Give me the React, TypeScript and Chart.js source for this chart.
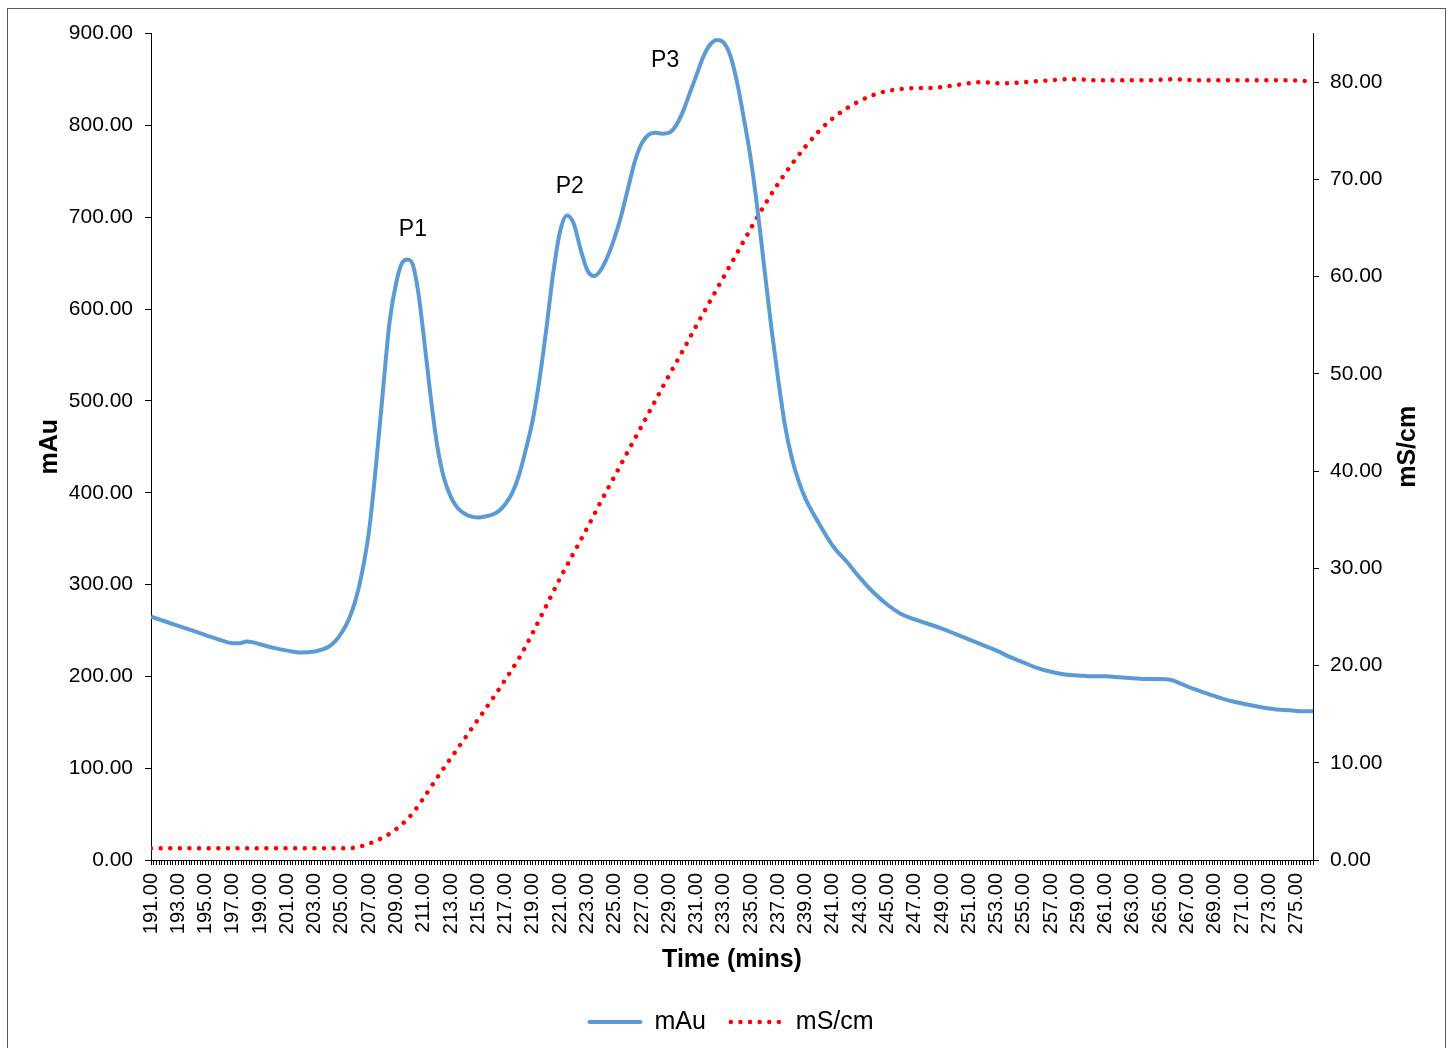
import { useEffect, useRef } from "react";
import { Chart, registerables } from "chart.js";

Chart.register(...registerables);

const FONT = "'Liberation Sans', Arial, Helvetica, sans-serif";

// Elution time (mins) and UV absorbance (mAu)
const mauTimes = [
  191, 192, 193, 194, 195, 196, 197, 197.5, 198, 198.5, 199, 200, 201, 202, 203, 203.5, 204, 204.5,
  205, 205.5, 206, 206.5, 207, 207.5, 208, 208.5, 209, 209.4, 209.8, 210.2, 210.6, 211, 211.5, 212,
  212.5, 213, 213.5, 214, 214.5, 215, 215.5, 216, 216.5, 217, 217.5, 218, 218.5, 219, 219.5, 220,
  220.5, 221, 221.5, 222, 222.5, 223, 223.5, 224, 224.5, 225, 225.5, 226, 226.5, 227, 227.5, 228,
  228.5, 229, 229.5, 230, 230.5, 231, 231.5, 232, 232.5, 233, 233.5, 234, 234.5, 235, 235.5, 236,
  236.5, 237, 237.5, 238, 238.5, 239, 240, 241, 242, 243, 244, 245, 246, 247, 248, 249, 250, 251,
  252, 253, 254, 255, 256, 257, 258, 259, 260, 261, 262, 263, 264, 265, 265.8, 266.5, 267.5, 268.5,
  269.5, 270.5, 271.5, 272.5, 273.5, 274.5, 275.5, 276.2,
];
const mauValues = [
  265, 260, 255, 250, 245, 240, 236, 236, 238, 237, 235, 231, 228, 226, 227, 229, 232, 238,
  248, 262, 283, 315, 360, 430, 510, 587, 630, 650, 654, 648, 618, 570, 505, 450,
  415, 395, 383, 377, 374, 373, 374, 376, 380, 388, 400, 420, 448, 480, 525, 580,
  640, 685, 702, 693, 665, 642, 636, 643, 658, 678, 703, 733, 762, 781, 790, 792,
  791, 792, 800, 815, 835, 855, 875, 888, 893, 890, 875, 845, 805, 761, 705, 641,
  578, 522, 472, 437, 412, 393, 366, 342, 325, 307, 291, 278, 268, 262, 257, 252, 246, 240,
  234, 228, 221, 215, 209, 205, 202, 201, 200, 200, 199, 198, 197, 197, 196, 192, 186, 181,
  176, 172, 169, 166, 164, 163, 162, 162,
];

// Conductivity (mS/cm) over the same run
const condTimes = [
  191, 195, 200, 205, 205.5, 206, 206.5, 207, 207.5, 208, 208.5, 209, 209.5, 210, 210.5, 211, 212,
  213, 214, 215, 216, 217, 218, 219, 220, 221, 222, 223, 224, 225, 226, 227, 228, 229, 230, 231,
  232, 233, 234, 235, 236, 237, 238, 239, 240, 241, 242, 243, 244, 245, 246, 247, 248, 249, 250,
  251, 252, 253, 254, 255, 256, 257, 258, 259, 260, 262, 264, 266, 268, 270, 272, 274, 276.2,
];
const condValues = [
  1.2, 1.2, 1.2, 1.2, 1.2, 1.3, 1.45, 1.7, 1.95, 2.3, 2.7, 3.2, 3.8, 4.5, 5.4, 6.4, 8.5,
  10.5, 12.5, 14.5, 16.5, 18.6, 20.8, 23.4, 26.2, 29.0, 31.6, 34.2, 36.9, 39.5, 42.1, 44.7, 47.3, 49.9, 52.4, 55.0,
  57.5, 60.0, 62.5, 65.0, 67.4, 69.6, 71.6, 73.4, 75.0, 76.3, 77.3, 78.1, 78.7, 79.1, 79.3, 79.4, 79.4, 79.5, 79.7,
  79.9, 80.0, 79.9, 79.9, 80.0, 80.1, 80.2, 80.3, 80.3, 80.2, 80.2, 80.2, 80.3, 80.2, 80.2, 80.2, 80.2, 80.1,
];

// Peak annotations (time, mAu)
const peakNames = ["P1", "P2", "P3"];
const peakTimes = [210.2, 221.7, 228.7];
const peakLevels = [686, 733, 870];

const X_MIN = 191;
const X_MAX = 276.2;
const X_STEP = 0.2;

const seriesNames = ["mAu", "mS/cm"];
const BLUE = "#5B9BD5";
const RED = "#FF0000";

const RED_DASH = [0.01, 9.6];

const peakLabelPlugin = {
  id: "peakLabels",
  afterDatasetsDraw(chart: any) {
    const { ctx, scales } = chart;
    ctx.save();
    ctx.font = `23px ${FONT}`;
    ctx.fillStyle = "#000";
    ctx.textAlign = "center";
    ctx.textBaseline = "middle";
    peakNames.forEach((name, i) => {
      const x = scales.x.getPixelForValue(peakTimes[i]);
      const y = scales.y.getPixelForValue(peakLevels[i]);
      ctx.fillText(name, x, y);
    });
    ctx.restore();
  },
};

const rightTitlePlugin = {
  id: "rightTitle",
  afterDraw(chart: any) {
    const { ctx, chartArea } = chart;
    ctx.save();
    ctx.font = `bold 25px ${FONT}`;
    ctx.fillStyle = "#000";
    ctx.textAlign = "center";
    ctx.textBaseline = "middle";
    ctx.translate(chart.width - 37, (chartArea.top + chartArea.bottom) / 2);
    ctx.rotate(-Math.PI / 2);
    ctx.fillText("mS/cm", 0, 0);
    ctx.restore();
  },
};

const legendPlugin = {
  id: "bottomLegend",
  afterDraw(chart: any) {
    const { ctx, chartArea } = chart;
    const lineLen = 55;
    const textGap = 12;
    const itemGap = 23;
    ctx.save();
    ctx.font = `25px ${FONT}`;
    const widths = seriesNames.map((n) => ctx.measureText(n).width);
    const total = widths.reduce((a, w) => a + lineLen + textGap + w, 0) + itemGap;
    let x = chart.width / 2 - total / 2 + 4;
    const y = chartArea.bottom + 162;
    chart.data.datasets.forEach((ds: any, i: number) => {
      ctx.beginPath();
      ctx.strokeStyle = ds.borderColor;
      ctx.lineWidth = ds.borderWidth;
      ctx.lineCap = "round";
      ctx.setLineDash(ds.borderDash || []);
      ctx.moveTo(x + 2, y);
      ctx.lineTo(x + lineLen - 2, y);
      ctx.stroke();
      ctx.setLineDash([]);
      ctx.fillStyle = "#000";
      ctx.textAlign = "left";
      ctx.textBaseline = "middle";
      ctx.fillText(ds.label, x + lineLen + textGap, y);
      x += lineLen + textGap + widths[i] + itemGap;
    });
    ctx.restore();
  },
};

export default function App() {
  const canvasRef = useRef<HTMLCanvasElement | null>(null);

  useEffect(() => {
    const canvas = canvasRef.current;
    if (!canvas) return;

    const chart = new Chart(canvas, {
      type: "line",
      data: {
        datasets: [
          {
            label: seriesNames[0],
            data: mauTimes.map((t, i) => ({ x: t, y: mauValues[i] })),
            borderColor: BLUE,
            backgroundColor: BLUE,
            borderWidth: 4,
            pointRadius: 0,
            cubicInterpolationMode: "monotone",
            yAxisID: "y",
          },
          {
            label: seriesNames[1],
            data: condTimes.map((t, i) => ({ x: t, y: condValues[i] })),
            borderColor: RED,
            backgroundColor: RED,
            borderWidth: 4.5,
            borderDash: RED_DASH,
            borderCapStyle: "round",
            pointRadius: 0,
            cubicInterpolationMode: "monotone",
            yAxisID: "y1",
          },
        ],
      },
      options: {
        responsive: false,
        animation: false,
        events: [],
        layout: { padding: { top: 22, left: 0, right: 0, bottom: 112 } },
        plugins: {
          legend: { display: false },
          tooltip: { enabled: false },
        },
        scales: {
          x: {
            type: "linear",
            position: "bottom",
            min: X_MIN,
            max: X_MAX,
            afterBuildTicks: (scale: any) => {
              const ticks = [];
              const n = Math.round((X_MAX - X_MIN) / X_STEP);
              for (let i = 0; i <= n; i++) {
                ticks.push({ value: Math.round((X_MIN + i * X_STEP) * 10) / 10 });
              }
              scale.ticks = ticks;
            },
            afterFit: (scale: any) => {
              scale.height = 115;
            },
            ticks: {
              autoSkip: false,
              minRotation: 90,
              maxRotation: 90,
              padding: 8,
              color: "#000",
              font: { family: FONT, size: 20 },
              callback: (value: any) => {
                const v = Number(value);
                const r = Math.round(v);
                if (Math.abs(v - r) < 1e-6 && Math.abs(r % 2) === 1) return r.toFixed(2);
                return "";
              },
            },
            grid: {
              display: true,
              drawOnChartArea: false,
              drawTicks: true,
              tickLength: 5,
              color: "#000",
              lineWidth: 1,
            },
            border: { display: true, color: "#000", width: 1 },
            title: {
              display: true,
              text: "Time (mins)",
              color: "#000",
              font: { family: FONT, size: 25, weight: "bold" },
              padding: { top: 0, bottom: 0 },
            },
          },
          y: {
            type: "linear",
            position: "left",
            min: 0,
            max: 900,
            afterFit: (scale: any) => {
              scale.width = 143;
            },
            ticks: {
              stepSize: 100,
              padding: 12,
              color: "#000",
              font: { family: FONT, size: 21 },
              callback: (value: any) => Number(value).toFixed(2),
            },
            grid: {
              display: true,
              drawOnChartArea: false,
              drawTicks: true,
              tickLength: 6,
              color: "#000",
            },
            border: { display: true, color: "#000", width: 1 },
            title: {
              display: true,
              text: "mAu",
              color: "#000",
              font: { family: FONT, size: 25, weight: "bold" },
              padding: { top: 27, bottom: 0 },
            },
          },
          y1: {
            type: "linear",
            position: "right",
            min: 0,
            max: 85,
            afterBuildTicks: (scale: any) => {
              scale.ticks = scale.ticks.filter((t: any) => t.value <= 80);
            },
            afterFit: (scale: any) => {
              scale.width = 132;
            },
            ticks: {
              stepSize: 10,
              padding: 11,
              color: "#000",
              font: { family: FONT, size: 21 },
              callback: (value: any) => Number(value).toFixed(2),
            },
            grid: {
              display: true,
              drawOnChartArea: false,
              drawTicks: true,
              tickLength: 6,
              color: "#000",
            },
            border: { display: true, color: "#000", width: 1 },
          },
        },
      },
      plugins: [peakLabelPlugin, rightTitlePlugin, legendPlugin],
    } as any);

    return () => chart.destroy();
  }, []);

  return (
    <div
      style={{
        position: "fixed",
        left: 7,
        top: 8,
        width: 1439,
        height: 1080,
        border: "1px solid #595959",
        boxSizing: "border-box",
        background: "#fff",
      }}
    >
      <canvas ref={canvasRef} width={1437} height={1078} style={{ display: "block" }} />
    </div>
  );
}
